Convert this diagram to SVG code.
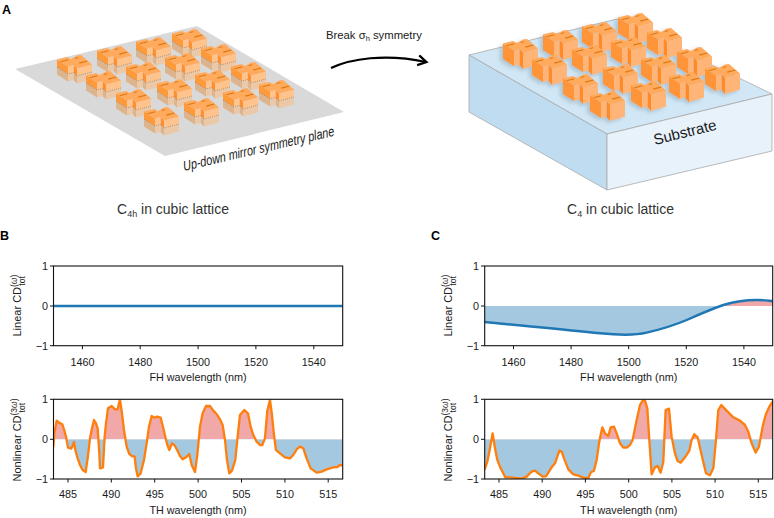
<svg xmlns="http://www.w3.org/2000/svg" xmlns:xlink="http://www.w3.org/1999/xlink" width="774" height="518" viewBox="0 0 774 518">
<style>
text{font-family:"Liberation Sans",Arial,sans-serif;fill:#1a1a1a}
.tl{font-size:10.8px;text-anchor:end}
.tc{font-size:10.8px;text-anchor:middle}
.lab{font-size:11px}
.ax{fill:none;stroke:#111;stroke-width:1.1}
.tk{stroke:#111;stroke-width:1;fill:none}
.cap{font-size:14px;fill:#333}
.pan{font-size:12.5px;font-weight:bold;fill:#000}
.t{fill:#ffaa5c}
.sl{fill:#dc7a18}
.d{fill:#ff9a3a}.g{fill:#ff8f2e}.l{fill:#ffc48e}
.md{fill:#dcb48e}.ml{fill:#ebc9a8}
.rd{fill:#ff9438}.rg{fill:#ff8a28}.rl{fill:#ffb478}
.cv{fill:none;stroke:#ff7f0e;stroke-width:7;stroke-linejoin:round}
.lc{fill:none;stroke:#1f77b4;stroke-width:2.4}
.red{fill:#f0a8a8}.blue{fill:#a5c8e1}
</style>
<defs>
<g id="top">
<path class="t" d="M0,4.5L10,2L14,4L20,0.5L24,0L35,9.5L20,13.5L16.5,10L11,11.5Z"/>
<path class="sl" d="M3.3,6.2L11,4.3L11.6,5.3L3.9,7.3Z M22,7.6L30,5.5L30.6,6.5L22.6,8.7Z M17.5,3L21,2.2L21.6,3.1L18.1,3.9Z"/>
</g>
<g id="uL">
<g transform="translate(0,7.5)">
<path class="md" d="M0,4.5L11,11.5V19L0,12Z M16.5,10L20,13.5V21L16.5,17.5Z"/>
<path class="ml" d="M11,11.5L16.5,10V17.5L11,19Z M20,13.5L35,9.5V17L20,21Z"/>
</g>
<path class="d" d="M0,4.5L11,11.5V19L0,12Z"/>
<path class="g" d="M16.5,10L20,13.5V21L16.5,17.5Z"/>
<path class="l" d="M11,11.5L16.5,10V17.5L11,19Z M20,13.5L35,9.5V17L20,21Z"/>
<path d="M0,12L11,19L16.5,17.5L20,21L35,17" fill="none" stroke="#9a7a5a" stroke-width=".7" stroke-dasharray="1 1"/>
<use href="#top"/>
</g>
<g id="uR">
<path class="rd" d="M0,4.5L11,11.5V27L0,20Z"/>
<path class="rg" d="M16.5,10L20,13.5V30L16.5,26Z"/>
<path class="rl" d="M11,11.5L16.5,10V25.5L11,27Z M20,13.5L35,9.5V25.5L20,30Z"/>
<use href="#top"/>
</g>
<filter id="sh" x="-10%" y="-10%" width="120%" height="120%"><feDropShadow dx="-3" dy="2" stdDeviation="2" flood-color="#55707f" flood-opacity=".3"/></filter>
<marker id="ah" markerWidth="14" markerHeight="14" refX="9" refY="6" orient="auto" markerUnits="userSpaceOnUse"><path d="M1,1L9.5,6L1,11" fill="none" stroke="#000" stroke-width="2.2"/></marker>
<clipPath id="ct"><rect x="484.7" y="266" width="288" height="79.7"/></clipPath>
<clipPath id="bb"><rect x="53.5" y="399.3" width="289.2" height="79.7"/></clipPath>
<clipPath id="cb"><rect x="484.7" y="399.3" width="288" height="79.7"/></clipPath>
<clipPath id="ctU"><rect x="484.7" y="266" width="288" height="40"/></clipPath>
<clipPath id="ctD"><rect x="484.7" y="306" width="288" height="40"/></clipPath>
<clipPath id="bbU"><rect x="53.5" y="399.3" width="289.2" height="40"/></clipPath>
<clipPath id="bbD"><rect x="53.5" y="439.3" width="289.2" height="40"/></clipPath>
<clipPath id="cbU"><rect x="484.7" y="399.3" width="288" height="40"/></clipPath>
<clipPath id="cbD"><rect x="484.7" y="439.3" width="288" height="40"/></clipPath>
<path id="curveB" d="M150,178L150,200L160,200L163,160L170,122L177,128L187,133L192,148L198,170L204,203L214,206L222,186L226,210L232,232L240,255L248,270L257,276L263,235L270,175L276,145L282,120L288,130L293,145L298,220L300,265L309,262L314,170L318,130L324,85L335,78L345,88L353,88L360,58L366,100L372,150L380,200L388,222L397,229L404,229L408,265L413,289L422,280L432,240L440,190L447,140L455,108L462,113L472,110L482,113L490,145L497,175L502,195L508,210L516,190L523,195L530,207L540,228L548,238L558,232L568,222L575,255L585,276L592,225L600,140L608,100L618,78L630,78L640,92L650,102L660,118L668,135L675,180L681,240L688,280L696,272L706,240L712,180L720,105L733,90L744,100L752,140L760,165L770,185L780,195L787,195L795,175L802,92L810,60L816,105L822,165L828,210L840,220L855,232L870,235L880,225L890,208L900,200L910,205L920,235L932,265L950,278L965,275L980,268L1000,262L1012,261L1020,255L1028,256L1045,256L1045,178"/>
<path id="curveC" d="M240,178L240,268L254,268L262,245L270,205L278,160L285,205L292,240L302,265L316,292L330,292L345,294L365,296L380,290L395,275L405,272L415,280L428,290L438,289L447,275L455,262L465,250L472,230L478,212L485,215L492,235L505,268L520,283L535,287L550,293L565,294L573,277L582,272L590,240L597,190L602,165L607,142L615,160L625,168L632,142L642,140L650,160L660,190L670,203L680,203L690,195L698,180L708,130L720,75L728,62L735,62L742,85L748,180L755,283L765,262L773,258L782,278L790,245L797,90L807,86L815,170L825,220L833,243L842,248L855,232L868,212L875,180L883,163L893,172L905,225L918,280L930,286L940,265L948,180L955,90L964,75L980,92L1000,112L1020,122L1035,135L1045,155L1055,190L1067,218L1077,200L1088,140L1097,105L1108,80L1118,65L1135,65L1135,178"/>
<path id="curveL" d="M470,306L470,322L484.7,322C513,325 560,329 600,333.3C615,334.8 635,335.5 646.7,332.7C662,329 675,325 686.7,320C700,314 712,309 723.3,305C735,301.5 747,299.8 758.3,300C765,300.1 770,301 785,302L785,306"/>
</defs>

<text class="pan" x="2" y="14">A</text>
<text class="pan" x="0" y="240">B</text>
<text class="pan" x="431" y="240">C</text>

<g id="mirror-plane">
<polygon points="15,69 197,26 344,112 165,156" fill="#d9d9d9"/>
<g id="units-left">
<use href="#uL" x="57" y="55"/><use href="#uL" x="97" y="46"/><use href="#uL" x="136" y="37"/><use href="#uL" x="172" y="29"/>
<use href="#uL" x="86" y="71"/><use href="#uL" x="126" y="62"/><use href="#uL" x="165" y="53"/><use href="#uL" x="201" y="44"/>
<use href="#uL" x="116" y="89"/><use href="#uL" x="157" y="79"/><use href="#uL" x="195" y="70"/><use href="#uL" x="231" y="62"/>
<use href="#uL" x="144" y="107"/><use href="#uL" x="184" y="98"/><use href="#uL" x="223" y="88"/><use href="#uL" x="259" y="80"/>
</g>
<text transform="translate(184,171) rotate(-13.2) skewX(-3)" font-size="14" font-style="italic" textLength="155" lengthAdjust="spacingAndGlyphs">Up-down mirror symmetry plane</text>
</g>
<text class="cap" x="117" y="214">C<tspan font-size="9" dy="2.5">4h</tspan><tspan dy="-2.5"> in cubic lattice</tspan></text>

<g id="connectors">
<path d="M331,68C350,59 385,53 426,62" fill="none" stroke="#000" stroke-width="2.2" marker-end="url(#ah)"/>
</g>
<text x="326" y="39" font-size="11.3" fill="#333">Break σ<tspan font-size="7.5" dy="2">h</tspan><tspan dy="-2"> symmetry</tspan></text>

<g id="substrate">
<polygon points="469,55 617,19 772,94 607,134" fill="#d2e7f5" stroke="#aaa" stroke-width=".8"/>
<polygon points="469,55 607,134 607,190 469,112" fill="#c0dcf0" stroke="#aaa" stroke-width=".8"/>
<polygon points="607,134 772,94 772,151 607,190" fill="#e8f2fa" stroke="#aaa" stroke-width=".8"/>
<text transform="translate(655,145) rotate(-14)" font-size="15">Substrate</text>
</g>
<g id="units-right" filter="url(#sh)">
<use href="#uR" x="503" y="39"/><use href="#uR" x="543" y="30"/><use href="#uR" x="582" y="22"/><use href="#uR" x="618" y="13"/>
<use href="#uR" x="532" y="55"/><use href="#uR" x="572" y="45"/><use href="#uR" x="611" y="37"/><use href="#uR" x="647" y="28"/>
<use href="#uR" x="563" y="74"/><use href="#uR" x="603" y="64"/><use href="#uR" x="641" y="55"/><use href="#uR" x="677" y="47"/>
<use href="#uR" x="590" y="91"/><use href="#uR" x="631" y="81"/><use href="#uR" x="669" y="72"/><use href="#uR" x="705" y="64"/>
</g>
<text class="cap" x="567" y="214">C<tspan font-size="9" dy="2.5">4</tspan><tspan dy="-2.5"> in cubic lattice</tspan></text>

<g id="plot-B-linear">
<line x1="53.5" x2="342.7" y1="306" y2="306" stroke="#1f77b4" stroke-width="2.4"/>
<rect class="ax" x="53.5" y="266" width="289.2" height="79.7"/>
<path class="tk" d="M50,266H53.5M50,306H53.5M50,345.7H53.5M82.4,345.7v3.5M140.2,345.7v3.5M198.1,345.7v3.5M255.9,345.7v3.5M313.8,345.7v3.5"/>
<text class="tl" x="48" y="270">1</text><text class="tl" x="48" y="310">0</text><text class="tl" x="48" y="350">−1</text>
<text class="tc" x="82.4" y="366">1460</text><text class="tc" x="140.2" y="366">1480</text><text class="tc" x="198.1" y="366">1500</text><text class="tc" x="255.9" y="366">1520</text><text class="tc" x="313.8" y="366">1540</text>
<text class="tc" x="198" y="381">FH wavelength (nm)</text>
<text class="lab" transform="translate(21,336.5) rotate(-90)">Linear CD<tspan font-size="8.5" dy="-4.5">(<tspan font-style="italic">ω</tspan>)</tspan><tspan font-size="8.5" dx="-11" dy="8.5">tot</tspan></text>
</g>

<g id="plot-C-linear">
<g clip-path="url(#ctU)"><use href="#curveL" class="red"/></g>
<g clip-path="url(#ctD)"><use href="#curveL" class="blue"/></g>
<g clip-path="url(#ct)"><use href="#curveL" class="lc"/></g>
<rect class="ax" x="484.7" y="266" width="288" height="79.7"/>
<path class="tk" d="M481,266H484.7M481,306H484.7M481,345.7H484.7M513.5,345.7v3.5M571.1,345.7v3.5M628.7,345.7v3.5M686.3,345.7v3.5M743.9,345.7v3.5"/>
<text class="tl" x="479" y="270">1</text><text class="tl" x="479" y="310">0</text><text class="tl" x="479" y="350">−1</text>
<text class="tc" x="513.5" y="366">1460</text><text class="tc" x="571.1" y="366">1480</text><text class="tc" x="628.7" y="366">1500</text><text class="tc" x="686.3" y="366">1520</text><text class="tc" x="743.9" y="366">1540</text>
<text class="tc" x="628.7" y="381">FH wavelength (nm)</text>
<text class="lab" transform="translate(452,336.5) rotate(-90)">Linear CD<tspan font-size="8.5" dy="-4.5">(<tspan font-style="italic">ω</tspan>)</tspan><tspan font-size="8.5" dx="-11" dy="8.5">tot</tspan></text>
</g>

<g id="plot-B-nonlinear">
<g clip-path="url(#bbU)"><use href="#curveB" class="red" transform="translate(0,380) scale(.3333)"/></g>
<g clip-path="url(#bbD)"><use href="#curveB" class="blue" transform="translate(0,380) scale(.3333)"/></g>
<g clip-path="url(#bb)"><use href="#curveB" class="cv" transform="translate(0,380) scale(.3333)"/></g>
<rect class="ax" x="53.5" y="399.3" width="289.2" height="79.7"/>
<path class="tk" d="M50,399.3H53.5M50,439.3H53.5M50,479H53.5M68,479v3.5M111.3,479v3.5M154.7,479v3.5M198.1,479v3.5M241.5,479v3.5M284.9,479v3.5M328.2,479v3.5"/>
<text class="tl" x="48" y="403.3">1</text><text class="tl" x="48" y="443">0</text><text class="tl" x="48" y="483">−1</text>
<text class="tc" x="68" y="498">485</text><text class="tc" x="111.3" y="498">490</text><text class="tc" x="154.7" y="498">495</text><text class="tc" x="198.1" y="498">500</text><text class="tc" x="241.5" y="498">505</text><text class="tc" x="284.9" y="498">510</text><text class="tc" x="328.2" y="498">515</text>
<text class="tc" x="198" y="514">TH wavelength (nm)</text>
<text class="lab" transform="translate(21,481.5) rotate(-90)">Nonlinear CD<tspan font-size="8.5" dy="-4.5">(3<tspan font-style="italic">ω</tspan>)</tspan><tspan font-size="8.5" dx="-14" dy="8.5">tot</tspan></text>
</g>

<g id="plot-C-nonlinear">
<g clip-path="url(#cbU)"><use href="#curveC" class="red" transform="translate(400,380) scale(.3333)"/></g>
<g clip-path="url(#cbD)"><use href="#curveC" class="blue" transform="translate(400,380) scale(.3333)"/></g>
<g clip-path="url(#cb)"><use href="#curveC" class="cv" transform="translate(400,380) scale(.3333)"/></g>
<rect class="ax" x="484.7" y="399.3" width="288" height="79.7"/>
<path class="tk" d="M481,399.3H484.7M481,439.3H484.7M481,479H484.7M499,479v3.5M542.2,479v3.5M585.4,479v3.5M628.7,479v3.5M671.9,479v3.5M715.1,479v3.5M758.3,479v3.5"/>
<text class="tl" x="479" y="403.3">1</text><text class="tl" x="479" y="443">0</text><text class="tl" x="479" y="483">−1</text>
<text class="tc" x="499" y="498">485</text><text class="tc" x="542.2" y="498">490</text><text class="tc" x="585.4" y="498">495</text><text class="tc" x="628.7" y="498">500</text><text class="tc" x="671.9" y="498">505</text><text class="tc" x="715.1" y="498">510</text><text class="tc" x="758.3" y="498">515</text>
<text class="tc" x="628.7" y="514">TH wavelength (nm)</text>
<text class="lab" transform="translate(452,481.5) rotate(-90)">Nonlinear CD<tspan font-size="8.5" dy="-4.5">(3<tspan font-style="italic">ω</tspan>)</tspan><tspan font-size="8.5" dx="-14" dy="8.5">tot</tspan></text>
</g>
</svg>
